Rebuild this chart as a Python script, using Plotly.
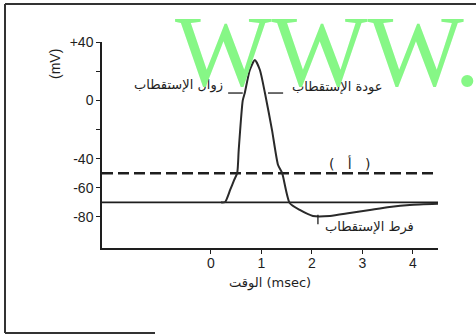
import plotly.graph_objects as go

# action potential trace (time in msec, membrane potential in mV)
time_ms = [0.20, 0.28, 0.38, 0.46, 0.52, 0.55, 0.63, 0.67, 0.77, 0.87,
           0.97, 1.07, 1.21, 1.33, 1.41, 1.56, 1.76, 2.02, 2.36, 2.75,
           3.15, 3.54, 3.94, 4.50]
potential_mv = [-70, -69.7, -61.5, -54.6, -49.8, -34, 0, 5, 20.8, 27.7,
                20.8, 5, -20.4, -44.4, -49.8, -70.4, -75.2, -79.3, -79.3, -77.3,
                -75.2, -73.2, -71.8, -71]

threshold_mv = -50
resting_mv = -70
x_span = [-2.16, 4.5]

x_ticks = [0, 1, 2, 3, 4]
y_ticks = [-80, -60, -40, -20, 0, 20, 40]
y_tick_text = ['-80', '-60', '-40', '', '0', '', '+40']

INK = '#1e1e1e'
AR_FONT = 'DejaVu Sans'

# plot area in page pixels (body margin is removed below)
PLOT_L, PLOT_T, PLOT_W, PLOT_H = 102, 42, 336, 206


def px(x):
    return (x - PLOT_L) / PLOT_W


def py(y):
    return (PLOT_T + PLOT_H - y) / PLOT_H


fig = go.Figure()

# threshold (dashed) and resting (solid) reference lines
fig.add_trace(go.Scatter(
    x=x_span, y=[threshold_mv, threshold_mv], mode='lines',
    line=dict(color=INK, width=2.5, dash='11px,5px'),
    showlegend=False, hoverinfo='skip'
))
fig.add_trace(go.Scatter(
    x=x_span, y=[resting_mv, resting_mv], mode='lines',
    line=dict(color=INK, width=1.6),
    showlegend=False, hoverinfo='skip'
))

# the action potential itself
fig.add_trace(go.Scatter(
    x=time_ms, y=potential_mv, mode='lines',
    line=dict(color='#2a2a2a', width=2, shape='spline', smoothing=0.6),
    showlegend=False
))

# leader lines next to the labels
fig.add_trace(go.Scatter(
    x=[0.34, 0.63, None, 1.13, 1.43, None, 2.12, 2.12],
    y=[5, 5, None, 5, 5, None, -78.5, -85],
    mode='lines', line=dict(color=INK, width=1.3),
    showlegend=False, hoverinfo='skip'
))

annotations = [
    dict(x=0.28, y=10.5, text='زوال الإستقطاب', xanchor='right', yanchor='middle', size=13),
    dict(x=1.56, y=9.1, text='عودة الإستقطاب', xanchor='left', yanchor='middle', size=13),
    dict(x=2.75, y=-43, text='(   أ   )', xanchor='center', yanchor='middle', size=14),
    dict(x=3.15, y=-87, text='فرط الإستقطاب', xanchor='center', yanchor='middle', size=13),
]
for a in annotations:
    size = a.pop('size')
    fig.add_annotation(**a, showarrow=False, font=dict(family=AR_FONT, size=size, color=INK))

# axis titles
fig.add_annotation(
    x=px(55), y=py(64), xref='paper', yref='paper',
    xanchor='center', yanchor='middle',
    text='(mV)', textangle=-90, showarrow=False,
    font=dict(family='Liberation Sans', size=14, color=INK)
)
fig.add_annotation(
    x=px(270), y=py(283), xref='paper', yref='paper',
    xanchor='center', yanchor='middle',
    text='الوقت (msec)', showarrow=False,
    font=dict(family=AR_FONT, size=13, color=INK)
)

# watermark
fig.add_annotation(
    x=px(173), y=py(51), xref='paper', yref='paper',
    xanchor='left', yanchor='middle', text='WWW.', showarrow=False,
    font=dict(family='Liberation Serif', size=102, color='#86f786')
)

# scanned page frame
frame = [
    (5, 4, 476, 4),
    (5, 4, 5, 333),
    (5, 333, 155, 333),
]
for x0, y0, x1, y1 in frame:
    fig.add_shape(
        type='line', xref='paper', yref='paper',
        x0=px(x0), x1=px(x1), y0=py(y0), y1=py(y1),
        line=dict(color='#333333', width=2)
    )

fig.update_layout(
    width=476, height=336,
    margin=dict(l=PLOT_L, r=476 - (PLOT_L + PLOT_W),
                t=PLOT_T, b=336 - (PLOT_T + PLOT_H)),
    paper_bgcolor='white', plot_bgcolor='white',
    font=dict(family='Liberation Sans', size=14, color=INK),
    showlegend=False,
    xaxis=dict(
        range=x_span, tickvals=x_ticks, showgrid=False, zeroline=False,
        showline=True, linecolor=INK, linewidth=1.5,
        ticks='outside', ticklen=4, tickcolor=INK, ticklabelstandoff=-3,
    ),
    yaxis=dict(
        range=[-101.3, 40], tickvals=y_ticks, ticktext=y_tick_text,
        showgrid=False, zeroline=False,
        showline=True, linecolor=INK, linewidth=1.5,
        ticks='outside', ticklen=4, tickcolor=INK,
    ),
)

fig.write_html(
    "out.html",
    config={'displayModeBar': False},
    post_script="document.body.style.margin = '0';"
)
